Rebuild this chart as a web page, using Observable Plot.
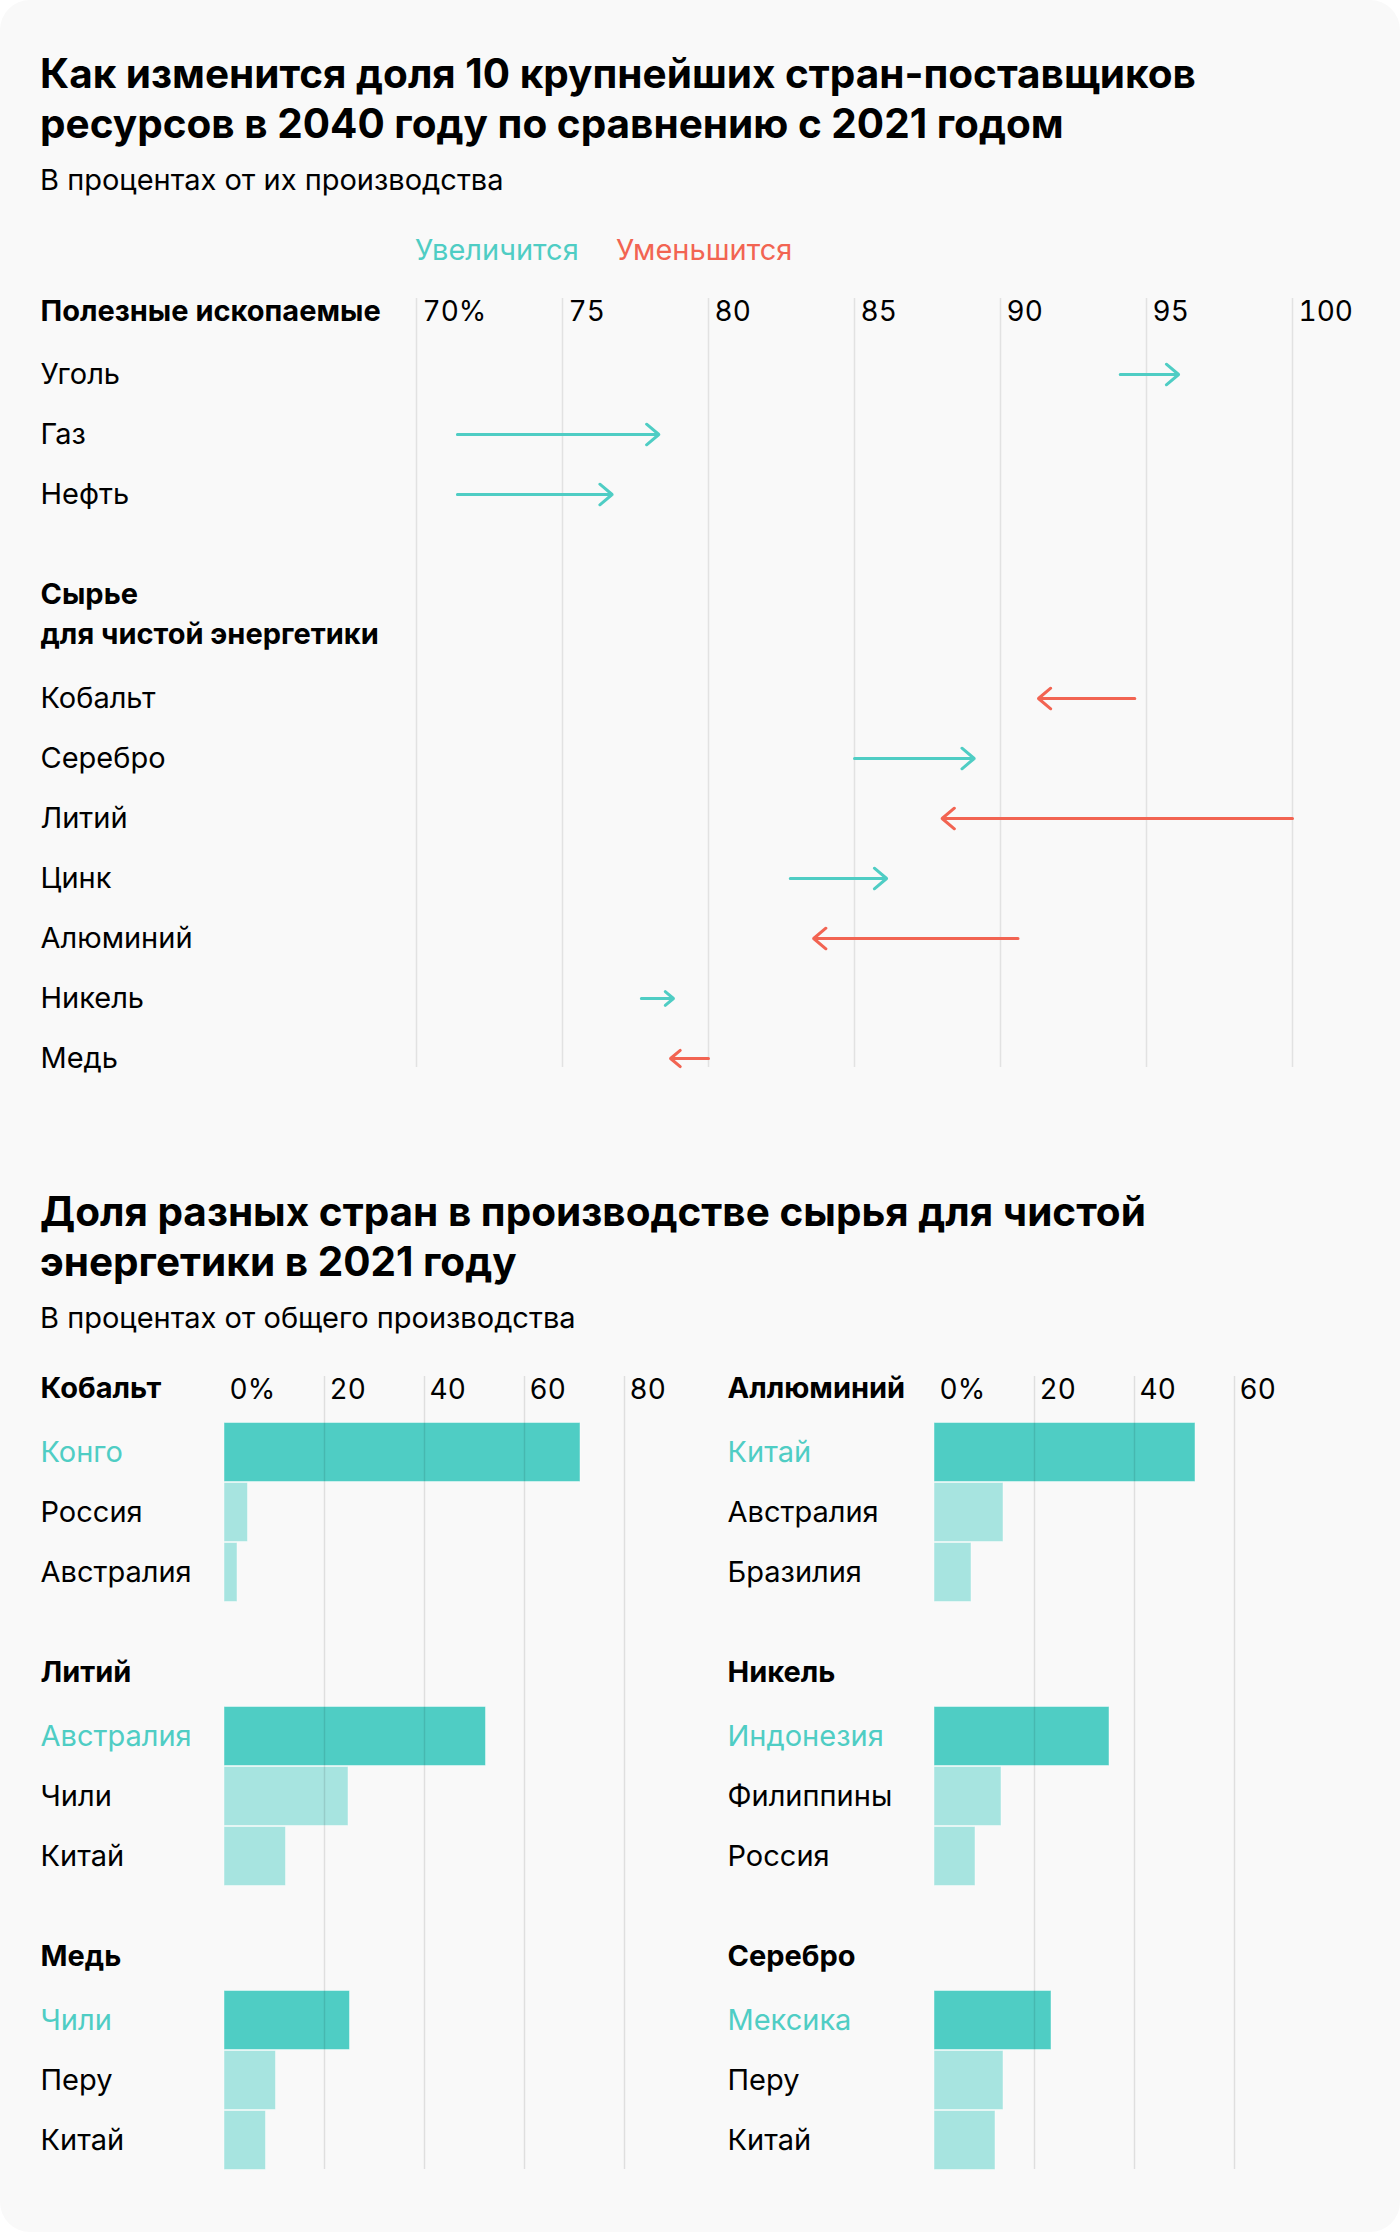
<!DOCTYPE html>
<html><head><meta charset="utf-8">
<script src="https://cdn.jsdelivr.net/npm/d3@7"></script>
<script src="https://cdn.jsdelivr.net/npm/@observablehq/plot@0.6"></script>
<style>
html,body{margin:0;padding:0;background:#fff;}
#card{position:relative;width:1400px;height:2232px;background:#f9f9f9;border-radius:30px;overflow:hidden;font-family:Inter,"Noto Sans",sans-serif;color:#000;}
.abs{position:absolute;white-space:nowrap;}
.title{left:40px;font-weight:700;font-size:40.5px;line-height:50px;}
.sub{left:40px;font-size:29px;line-height:34px;}
.legend{font-size:29px;line-height:34px;}
#card svg{position:absolute;overflow:visible;}
</style></head><body>
<div id="card">
  <div class="abs title" style="top:49px">Как изменится доля 10 крупнейших стран-поставщиков<br>ресурсов в 2040 году по сравнению с 2021 годом</div>
  <div class="abs sub" style="top:163px">В процентах от их производства</div>
  <div class="abs legend" style="top:233px;left:415px;color:#4fcdc4">Увеличится</div>
  <div class="abs legend" style="top:233px;left:616px;color:#f26452">Уменьшится</div>
  <div class="abs title" style="top:1187px">Доля разных стран в производстве сырья для чистой<br>энергетики в 2021 году</div>
  <div class="abs sub" style="top:1301px">В процентах от общего производства</div>
</div>
<script>
// ---------- data: top chart ----------
const fossilHeader = "Полезные ископаемые";
const fossil = ["Уголь", "Газ", "Нефть"];
const fossil2021 = [94.1, 71.4, 71.4];
const fossil2040 = [96.1, 78.3, 76.7];

const cleanHeader = "Сырье\nдля чистой энергетики";
const clean = ["Кобальт", "Серебро", "Литий", "Цинк", "Алюминий", "Никель", "Медь"];
const clean2021 = [94.6, 85.0, 100.0, 82.8, 90.6, 77.7, 80.0];
const clean2040 = [91.3, 89.1, 88.0, 86.1, 83.6, 78.8, 78.7];

const shareTicks = [70, 75, 80, 85, 90, 95, 100];

// ---------- data: bottom chart ----------
const cobaltCountries = ["Конго", "Россия", "Австралия"];
const cobaltShares = [71.2, 4.7, 2.6];
const lithiumCountries = ["Австралия", "Чили", "Китай"];
const lithiumShares = [52.3, 24.8, 12.3];
const copperCountries = ["Чили", "Перу", "Китай"];
const copperShares = [25.1, 10.3, 8.3];
const aluminiumCountries = ["Китай", "Австралия", "Бразилия"];
const aluminiumShares = [52.2, 13.8, 7.4];
const nickelCountries = ["Индонезия", "Филиппины", "Россия"];
const nickelShares = [35.0, 13.4, 8.2];
const silverCountries = ["Мексика", "Перу", "Китай"];
const silverShares = [23.4, 13.8, 12.2];

const leftTicks = [0, 20, 40, 60, 80];
const rightTicks = [0, 20, 40, 60];

// ---------- styles ----------
const teal = "#4fcdc4", red = "#f26452", light = "#a7e4e0", gridColor = "#e2e2e2";
const FONT = "Inter, 'Noto Sans', sans-serif";
const LABEL = 29;
const card = document.getElementById("card");

function place(svg, left, top) {
  svg.style.left = left + "px";
  svg.style.top = top + "px";
  card.appendChild(svg);
}

function arrowRows(names, from, to) {
  return names.map((name, i) => ({name, from: from[i], to: to[i]}));
}

function arrowsPlot({header, names, from, to, height, yRange, marginBottom, marginTop, withAxis, headerDy, lineHeight}) {
  const rows = arrowRows(names, from, to);
  const marks = [
    Plot.ruleX(shareTicks, {stroke: gridColor, strokeWidth: 1.5}),
    Plot.text([header], {y: d => d, text: d => d, frameAnchor: "left", textAnchor: "start",
      fontWeight: 700, fontSize: LABEL, fill: "#000", dy: headerDy, lineHeight: lineHeight || 1}),
    Plot.text(names, {y: d => d, text: d => d, frameAnchor: "left", textAnchor: "start", fontSize: LABEL, fill: "#000"}),
    Plot.arrow(rows, {x1: "from", x2: "to", y1: "name", y2: "name",
      stroke: d => d.to > d.from ? teal : red, strokeWidth: 3, headAngle: 80, headLength: 8})
  ];
  if (withAxis) {
    marks.push(Plot.axisX(shareTicks, {anchor: "top", label: null, tickSize: 0, tickPadding: 0, textAnchor: "start",
      dx: 6, dy: 22, fontSize: 28, fill: "#000", tickFormat: d => d === 70 ? "70%" : String(d)}));
  }
  return Plot.plot({
    width: 1400, height,
    marginLeft: 40, marginRight: 0, marginTop, marginBottom,
    style: {background: "transparent", fontFamily: FONT, fontSize: "28px", overflow: "visible"},
    x: {domain: [70, 100], range: [416, 1292], axis: withAxis ? undefined : null, label: null},
    y: {type: "band", domain: [header, ...names], range: yRange, padding: 0, axis: null},
    color: {type: "identity"},
    marks
  });
}

place(arrowsPlot({header: fossilHeader, names: fossil, from: fossil2021, to: fossil2040,
  height: 274, yRange: [4, 244], marginTop: 18, marginBottom: 0, withAxis: true, headerDy: -3}), 0, 280);
place(arrowsPlot({header: cleanHeader, names: clean, from: clean2021, to: clean2040,
  height: 536, yRange: [54, 534], marginTop: 0, marginBottom: 23, withAxis: false, headerDy: -27, lineHeight: 1.38}), 0, 554);

// ---------- bottom small multiples ----------
function barsPlot({header, countries, shares, domainMax, ticks, height, withAxis, zeroX}) {
  const rows = countries.map((country, i) => ({country, share: shares[i], leader: i === 0}));
  const gridTicks = ticks.filter(t => t > 0);
  const marks = [
    Plot.barX(rows, {x: "share", y: "country", fill: d => d.leader ? teal : light,
      stroke: "#ffffff", strokeOpacity: 0.45, strokeWidth: 1, insetTop: 0.5, insetBottom: 0.5}),
    Plot.ruleX(gridTicks, {stroke: "#000", strokeOpacity: 0.1, strokeWidth: 1.5}),
    Plot.text([header], {y: d => d, text: d => d, frameAnchor: "left", textAnchor: "start",
      fontWeight: 700, fontSize: LABEL, fill: "#000", dy: -3.5}),
    Plot.text(rows, {y: "country", text: "country", frameAnchor: "left", textAnchor: "start",
      fontSize: LABEL, fill: d => d.leader ? teal : "#000"})
  ];
  if (withAxis) {
    marks.push(Plot.axisX(ticks, {anchor: "top", label: null, tickSize: 0, tickPadding: 0, textAnchor: "start",
      dx: 5, dy: 22, fontSize: 28, fill: "#000", tickFormat: d => d === 0 ? "0%" : String(d)}));
  }
  return Plot.plot({
    width: 700, height,
    marginLeft: 40, marginRight: 0, marginTop: 0, marginBottom: 0,
    style: {background: "transparent", fontFamily: FONT, fontSize: "28px", overflow: "visible"},
    x: {domain: [0, domainMax], range: [zeroX, zeroX + 5 * domainMax], axis: withAxis ? undefined : null, label: null},
    y: {type: "band", domain: [header, ...countries], range: [-14.5, 225.5], padding: 0, axis: null},
    color: {type: "identity"},
    marks
  });
}

const groupTops = [1376, 1660, 1944];
const groupHeights = [284, 284, 225];
const leftGroups = [
  ["Кобальт", cobaltCountries, cobaltShares],
  ["Литий", lithiumCountries, lithiumShares],
  ["Медь", copperCountries, copperShares]
];
const rightGroups = [
  ["Аллюминий", aluminiumCountries, aluminiumShares],
  ["Никель", nickelCountries, nickelShares],
  ["Серебро", silverCountries, silverShares]
];
leftGroups.forEach(([header, countries, shares], g) => {
  place(barsPlot({header, countries, shares, domainMax: 80, ticks: leftTicks,
    height: groupHeights[g], withAxis: g === 0, zeroX: 224}), 0, groupTops[g]);
});
rightGroups.forEach(([header, countries, shares], g) => {
  place(barsPlot({header, countries, shares, domainMax: 60, ticks: rightTicks,
    height: groupHeights[g], withAxis: g === 0, zeroX: 247}), 687, groupTops[g]);
});
</script>
</body></html>
